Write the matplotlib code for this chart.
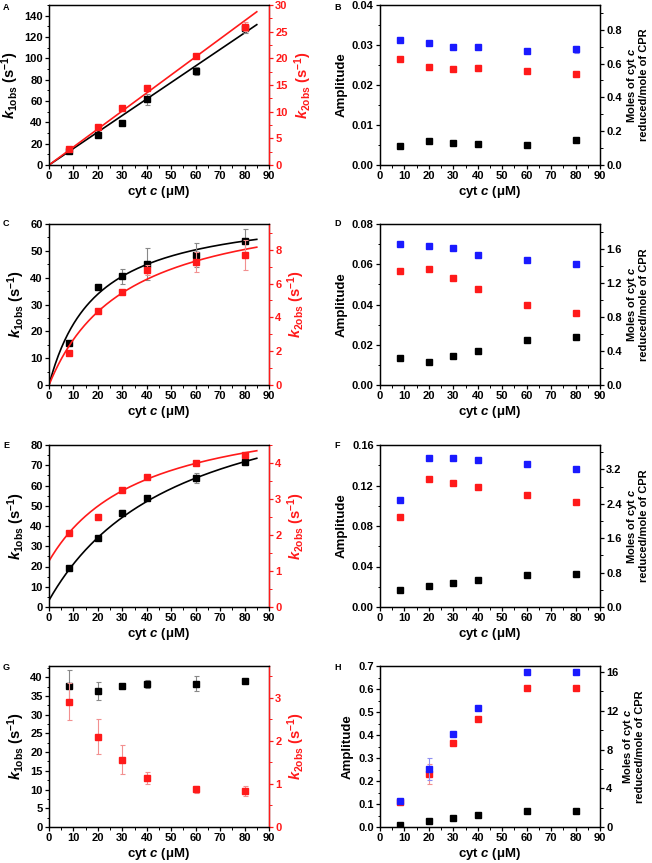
import numpy as np
import matplotlib
matplotlib.use('Agg')
import matplotlib.pyplot as plt
from matplotlib.ticker import MultipleLocator, FormatStrFormatter

plt.rcParams['font.family'] = ['Liberation Sans', 'DejaVu Sans']
plt.rcParams['font.weight'] = 'bold'
plt.rcParams['axes.labelweight'] = 'bold'
plt.rcParams['mathtext.fontset'] = 'custom'
plt.rcParams['mathtext.rm'] = 'Liberation Sans:bold'
plt.rcParams['mathtext.it'] = 'Liberation Sans:bold:italic'
plt.rcParams['mathtext.bf'] = 'Liberation Sans:bold'
plt.rcParams['axes.linewidth'] = 0.9

# cyt c concentrations (uM)
cyt = [8, 20, 30, 40, 60, 80]

# Panel A - observed rate constants
a_k1 = [13, 27.8, 39.3, 61.7, 88.2, 128]
a_k1_err = [0.5, 1, 1, 5, 4, 4]
a_k2 = [2.93, 7.1, 10.67, 14.5, 20.4, 25.95]
a_k2_err = [0.2, 0.3, 0.3, 0.4, 0.4, 0.9]
a_k1_slope = 1.548
a_k2_slope = 0.338

# Panel C
c_k1 = [15.8, 36.4, 40.6, 45.2, 48.4, 53.5]
c_k1_err = [0.5, 0.5, 2.8, 6.0, 4.6, 4.7]
c_k2 = [1.87, 4.38, 5.52, 6.8, 7.28, 7.7]
c_k2_err = [0.1, 0.1, 0.1, 0.3, 0.6, 0.9]
c_k1_fit = (0.0, 66.6, 19.3)   # offset, max, K
c_k2_fit = (0.0, 11.17, 31.5)

# Panel E
e_k1 = [19.1, 34.3, 46.5, 53.8, 63.5, 71.8]
e_k1_err = [0.5, 0.6, 1.2, 1.0, 2.5, 1.8]
e_k2 = [2.05, 2.51, 3.26, 3.63, 4.0, 4.23]
e_k2_err = [0.03, 0.03, 0.04, 0.04, 0.04, 0.05]
e_k1_fit = (3.3, 114.6, 53.9)
e_k2_fit = (1.28, 4.45, 38.2)

# Panel G
g_k1 = [37.7, 36.2, 37.6, 38.1, 38.2, 39.0]
g_k1_err = [4.1, 2.4, 0.3, 1.1, 2.0, 0.5]
g_k2 = [2.91, 2.10, 1.56, 1.13, 0.88, 0.84]
g_k2_err = [0.43, 0.4, 0.34, 0.14, 0.08, 0.12]

# Panels B, D, F, H - amplitudes (phase 1 black, phase 2 red) and moles reduced (blue)
b_amp1 = [0.0047, 0.0059, 0.0056, 0.0052, 0.0051, 0.0062]
b_amp2 = [0.0264, 0.0245, 0.0239, 0.0242, 0.0234, 0.0227]
b_amp2_err = [0, 0, 0, 0.0008, 0, 0]
b_moles = [0.737, 0.724, 0.698, 0.698, 0.675, 0.684]
b_moles_err = [0, 0.012, 0, 0.012, 0, 0.02]

d_amp1 = [0.0136, 0.0114, 0.0146, 0.0169, 0.0224, 0.0239]
d_amp2 = [0.0566, 0.0576, 0.0533, 0.0475, 0.0396, 0.0359]
d_amp2_err = [0, 0, 0, 0, 0, 0]
d_moles = [1.659, 1.635, 1.608, 1.525, 1.475, 1.42]
d_moles_err = [0, 0, 0, 0, 0, 0]

f_amp1 = [0.0169, 0.0206, 0.0239, 0.0269, 0.0312, 0.0329]
f_amp2 = [0.089, 0.1265, 0.1228, 0.1182, 0.1102, 0.1039]
f_amp2_err = [0, 0, 0, 0, 0, 0]
f_moles = [2.496, 3.466, 3.459, 3.41, 3.318, 3.216]
f_moles_err = [0, 0, 0, 0, 0, 0]

h_amp1 = [0.0087, 0.0246, 0.0406, 0.0536, 0.071, 0.071]
h_amp2 = [0.1087, 0.232, 0.367, 0.468, 0.603, 0.603]
h_amp2_err = [0, 0.044, 0, 0, 0, 0]
h_moles = [2.72, 6.02, 9.63, 12.32, 16.0, 16.0]
h_moles_err = [0, 1.15, 0, 0, 0, 0]

RED = '#ff1a1a'
BLUE = '#1a1aff'
W, H = 652, 863
TICK_FS = 8


def axes_at(fig, left, top, right, bottom):
    """Axes from pixel box."""
    return fig.add_axes([left / W, 1 - bottom / H, (right - left) / W, (bottom - top) / H])


def bold_ticks(ax):
    for lbl in ax.get_xticklabels() + ax.get_yticklabels():
        lbl.set_fontweight('bold')


def style_axis(ax, ymax, ymaj, ymin, yfmt):
    ax.set_xlim(0, 90)
    ax.set_ylim(0, ymax)
    ax.xaxis.set_major_locator(MultipleLocator(10))
    ax.xaxis.set_minor_locator(MultipleLocator(5))
    ax.yaxis.set_major_locator(MultipleLocator(ymaj))
    ax.yaxis.set_minor_locator(MultipleLocator(ymin))
    ax.yaxis.set_major_formatter(FormatStrFormatter(yfmt))
    ax.tick_params(which='major', length=3, width=0.9, labelsize=TICK_FS, pad=1.5)
    ax.tick_params(which='minor', length=1.8, width=0.7)
    ax.tick_params(top=False, which='both')
    ax.set_xlabel('cyt $c$ (μM)', fontsize=9.5, labelpad=2)


def hyperbola(x, fit):
    y0, vmax, km = fit
    return y0 + vmax * x / (km + x)


def rate_panel(fig, box, k1, k1_err, k2, k2_err, lims, ticks, fits=None):
    ax = axes_at(fig, *box)
    style_axis(ax, lims[0], ticks[0], ticks[0] / 2, '%d')
    ax2 = ax.twinx()
    ax2.set_ylim(0, lims[1])
    ax2.yaxis.set_major_locator(MultipleLocator(ticks[1]))
    ax2.yaxis.set_minor_locator(MultipleLocator(ticks[1] / 2))
    ax2.yaxis.set_major_formatter(FormatStrFormatter('%d'))
    ax2.tick_params(which='major', length=3, width=0.9, labelsize=TICK_FS, pad=1.5,
                    colors=RED)
    ax2.tick_params(which='minor', length=1.8, width=0.7, colors=RED)
    ax2.spines['right'].set_color(RED)
    ax2.spines['right'].set_linewidth(1.0)

    if fits is not None:
        xf = np.linspace(0, 85, 200)
        f1, f2 = fits
        if np.isscalar(f1):
            ax.plot(xf, f1 * xf, color='black', lw=1.2)
            ax2.plot(xf, f2 * xf, color=RED, lw=1.2)
        else:
            ax.plot(xf, hyperbola(xf, f1), color='black', lw=1.2)
            ax2.plot(xf, hyperbola(xf, f2), color=RED, lw=1.2)

    ax.errorbar(cyt, k1, yerr=k1_err, fmt='s', ms=4.5, color='black',
                ecolor='#888888', elinewidth=0.8, capsize=1.8, capthick=0.8)
    ax2.errorbar(cyt, k2, yerr=k2_err, fmt='s', ms=4.5, color=RED,
                 ecolor='#f29090', elinewidth=0.8, capsize=1.8, capthick=0.8)

    ax.set_ylabel(r'$k_{\rm 1obs}$ (s$^{-1}$)', fontsize=10.5, labelpad=2)
    ax2.set_ylabel(r'$k_{\rm 2obs}$ (s$^{-1}$)', fontsize=10.5, color=RED, labelpad=3)
    bold_ticks(ax)
    bold_ticks(ax2)
    return ax, ax2


def amp_panel(fig, box, amp1, amp2, amp2_err, moles, moles_err, lims, ticks, fmts):
    ax = axes_at(fig, *box)
    style_axis(ax, lims[0], ticks[0], ticks[0] / 2, fmts[0])
    ax2 = ax.twinx()
    ax2.set_ylim(0, lims[1])
    ax2.yaxis.set_major_locator(MultipleLocator(ticks[1]))
    ax2.yaxis.set_minor_locator(MultipleLocator(ticks[1] / 2))
    ax2.yaxis.set_major_formatter(FormatStrFormatter(fmts[1]))
    ax2.tick_params(which='major', length=3, width=0.9, labelsize=TICK_FS, pad=1.5)
    ax2.tick_params(which='minor', length=1.8, width=0.7)

    ax.plot(cyt, amp1, 's', ms=4.5, color='black')
    ax.errorbar(cyt, amp2, yerr=amp2_err, fmt='s', ms=4.5, color=RED,
                ecolor='#f29090', elinewidth=0.8, capsize=1.8, capthick=0.8)
    ax2.errorbar(cyt, moles, yerr=moles_err, fmt='s', ms=4.5, color=BLUE,
                 ecolor='#9090f2', elinewidth=0.8, capsize=1.8, capthick=0.8)

    ax.set_ylabel('Amplitude', fontsize=9.5, labelpad=3)
    ax2.set_ylabel('Moles of cyt $c$\nreduced/mole of CPR', fontsize=8,
                   labelpad=2, linespacing=1.0)
    bold_ticks(ax)
    bold_ticks(ax2)
    return ax, ax2


fig = plt.figure(figsize=(W / 100, H / 100), dpi=100)

# rows: (top, bottom) in pixels
rows = [(5, 165), (224, 385), (445, 607), (666, 827)]
left_col = (49, 269)
right_col = (380, 600)

def box(col, row):
    return (col[0], row[0], col[1], row[1])

rate_panel(fig, box(left_col, rows[0]), a_k1, a_k1_err, a_k2, a_k2_err,
           (150, 30), (20, 5), fits=(a_k1_slope, a_k2_slope))
rate_panel(fig, box(left_col, rows[1]), c_k1, c_k1_err, c_k2, c_k2_err,
           (60, 9.52), (10, 2), fits=(c_k1_fit, c_k2_fit))
rate_panel(fig, box(left_col, rows[2]), e_k1, e_k1_err, e_k2, e_k2_err,
           (80, 4.51), (10, 1), fits=(e_k1_fit, e_k2_fit))
rate_panel(fig, box(left_col, rows[3]), g_k1, g_k1_err, g_k2, g_k2_err,
           (43, 3.74), (5, 1))

amp_panel(fig, box(right_col, rows[0]), b_amp1, b_amp2, b_amp2_err, b_moles, b_moles_err,
          (0.04, 0.946), (0.01, 0.2), ('%.2f', '%.1f'))
amp_panel(fig, box(right_col, rows[1]), d_amp1, d_amp2, d_amp2_err, d_moles, d_moles_err,
          (0.08, 1.894), (0.02, 0.4), ('%.2f', '%.1f'))
amp_panel(fig, box(right_col, rows[2]), f_amp1, f_amp2, f_amp2_err, f_moles, f_moles_err,
          (0.16, 3.77), (0.04, 0.8), ('%.2f', '%.1f'))
amp_panel(fig, box(right_col, rows[3]), h_amp1, h_amp2, h_amp2_err, h_moles, h_moles_err,
          (0.7, 16.62), (0.1, 4), ('%.1f', '%d'))

# panel letters
for letter, (x, y) in zip('ABCDEFGH', [(3, 7), (334, 7), (3, 224), (334, 223),
                                      (3, 445), (334, 445), (3, 667), (334, 667)]):
    fig.text(x / W, 1 - y / H, letter, fontsize=6.5, fontweight='bold', va='center')

fig.savefig('out.png', dpi=100)
